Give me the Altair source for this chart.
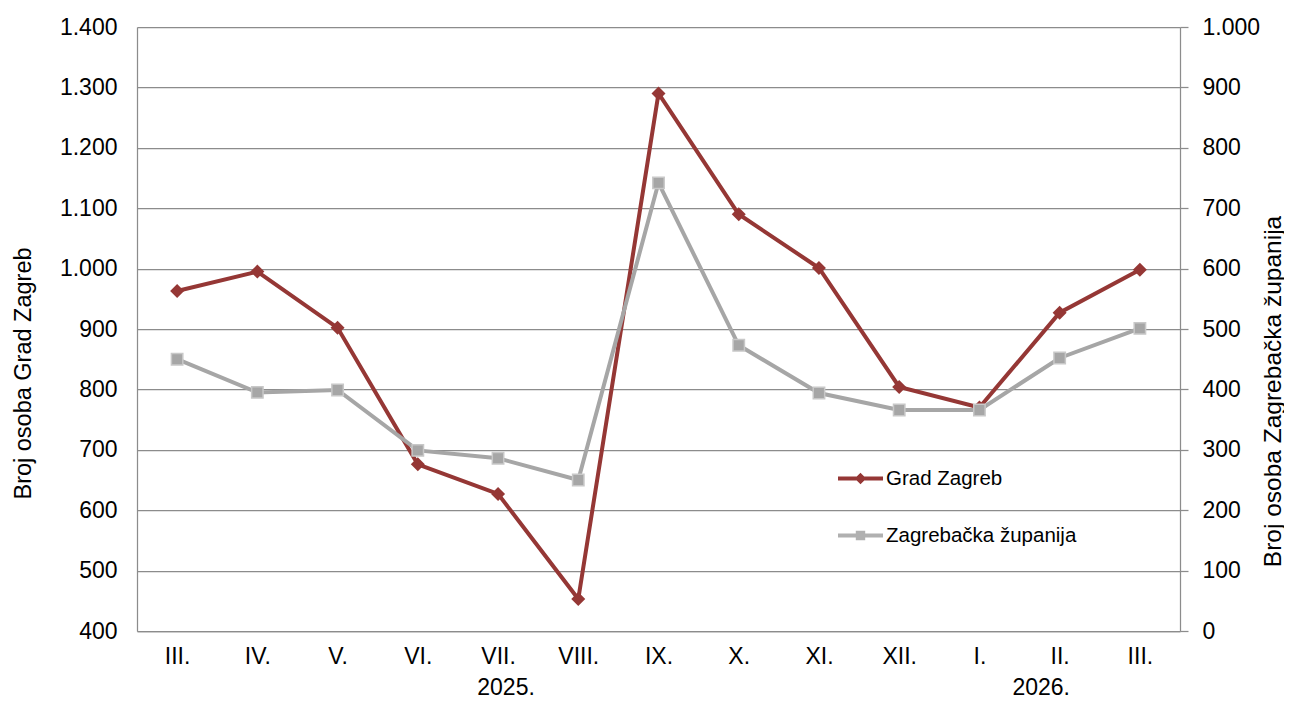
import json
import altair as alt
import pandas as pd

# ---- data ----
months = ["III.", "IV.", "V.", "VI.", "VII.", "VIII.", "IX.", "X.", "XI.", "XII.", "I.", "II.", "III."]
grad_zagreb = [963, 995, 902, 676, 627, 453, 1290, 1090, 1001, 804, 770, 927, 998]
zagrebacka = [450, 395, 399, 299, 286, 250, 742, 473, 394, 366, 366, 452, 501]
years = ["2025.", "2026."]
year_idx = [4.1, 10.77]
series = ["Grad Zagreb", "Zagrebačka županija"]

RED = "#953735"
GRAY = "#A6A6A6"
GRID = "#8C8C8C"
FONT = "Liberation Sans"
TICK_FS = 23
TITLE_FS = 23.5

df = pd.DataFrame({"idx": list(range(len(months))), "month": months,
                   "zg": grad_zagreb, "zz": zagrebacka})
ydf = pd.DataFrame({"year": years, "idx": year_idx})
ldf = pd.DataFrame({"series": series})

label_expr = json.dumps(months) + "[datum.value]"
num_expr = "replace(format(datum.value, ','), ',', '.')"

xenc = alt.X("idx:Q", scale=alt.Scale(domain=[-0.5, 12.5], nice=False, zero=False),
             axis=alt.Axis(values=list(range(len(months))), labelExpr=label_expr, title=None,
                           grid=False, ticks=False, tickSize=0, domainColor=GRID, domainWidth=1.25,
                           labelFontSize=TICK_FS, labelFont=FONT, labelColor="black", labelPadding=14))

yl = alt.Y("zg:Q", scale=alt.Scale(domain=[400, 1400], nice=False, zero=False),
           axis=alt.Axis(orient="left", values=list(range(400, 1401, 100)), labelExpr=num_expr,
                         title="Broj osoba Grad Zagreb", grid=True, gridColor=GRID, gridWidth=1.25,
                         ticks=False, tickSize=0, domainColor=GRID, domainWidth=1.25,
                         labelPadding=20, labelFontSize=TICK_FS, labelFont=FONT, labelColor="black",
                         titleFontSize=TITLE_FS, titleFont=FONT, titleFontWeight="normal",
                         titleColor="black", titleAngle=270, titleBaseline="middle",
                         titleX=-114, titleY=346))

yr = alt.Y("zz:Q", scale=alt.Scale(domain=[0, 1000], nice=False, zero=False),
           axis=alt.Axis(orient="right", values=list(range(0, 1001, 100)), labelExpr=num_expr,
                         title="Broj osoba Zagrebačka županija", grid=False,
                         ticks=True, tickSize=8, tickColor=GRID, tickWidth=1.25,
                         domainColor=GRID, domainWidth=1.25,
                         labelPadding=14, labelFontSize=TICK_FS, labelFont=FONT, labelColor="black",
                         titleFontSize=24.5, titleFont=FONT, titleFontWeight="normal",
                         titleColor="black", titleAngle=270, titleBaseline="middle",
                         titleX=93, titleY=364))

base = alt.Chart(df)
red_line = base.mark_line(color=RED, strokeWidth=4).encode(x=xenc, y=yl)
red_pts = base.mark_point(shape="diamond", filled=True, size=196, color=RED, opacity=1).encode(x=xenc, y=yl)
gray_line = base.mark_line(color=GRAY, strokeWidth=4).encode(x=xenc, y=yr)
gray_pts = base.mark_point(shape="square", filled=True, size=130, fill=GRAY, stroke="#C8C8C8",
                           strokeWidth=1.5, opacity=1).encode(x=xenc, y=yr)

year_text = alt.Chart(ydf).mark_text(fontSize=TICK_FS, font=FONT, color="black", baseline="alphabetic").encode(
    x=alt.X("idx:Q", scale=alt.Scale(domain=[-0.5, 12.5], nice=False, zero=False)),
    y=alt.value(668), text="year:N")

paths = ["M-1,0H1M0,-0.13L0.13,0L0,0.13L-0.13,0Z",
         "M-1,0H1M-0.12,-0.12H0.12V0.12H-0.12Z"]
leg = alt.Legend(title=None, orient="none", legendX=699, legendY=427, padding=0,
                 symbolSize=2025, symbolStrokeWidth=4, labelFontSize=20.5, labelFont=FONT,
                 labelColor="black", labelOffset=1, rowPadding=21, symbolOpacity=1, labelLimit=500)
legend_layer = alt.Chart(ldf).transform_filter("false").mark_point(filled=True, opacity=1).encode(
    fill=alt.Fill("series:N", scale=alt.Scale(domain=series, range=[RED, GRAY]), legend=leg),
    stroke=alt.Stroke("series:N", scale=alt.Scale(domain=series, range=[RED, "#B0B0B0"]), legend=leg),
    shape=alt.Shape("series:N", scale=alt.Scale(domain=series, range=paths), legend=leg),
)

left = alt.layer(red_line, red_pts)
right = alt.layer(gray_line, gray_pts)

chart = alt.layer(left, right, year_text, legend_layer).resolve_scale(y="independent").properties(
    width=1043, height=604,
    autosize=alt.AutoSizeParams(type="none"),
    padding={"left": 129, "top": 19, "right": 104, "bottom": 69},
).configure_view(stroke=None)

chart.save("out.html", embed_options={"renderer": "svg", "actions": False})
